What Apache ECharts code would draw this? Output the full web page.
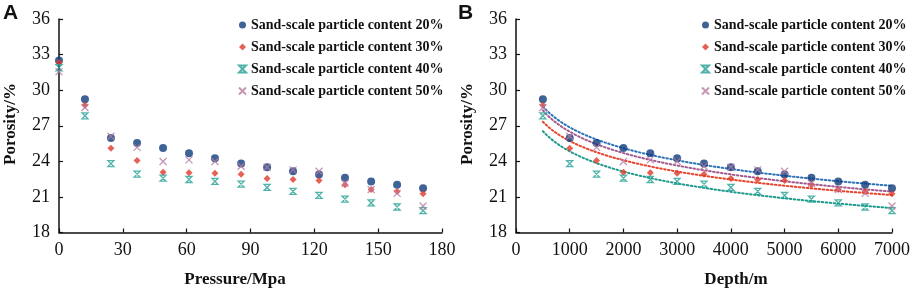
<!DOCTYPE html>
<html><head><meta charset="utf-8">
<script src="https://cdn.jsdelivr.net/npm/echarts@6/dist/echarts.min.js"></script>
<style>html,body{margin:0;padding:0;background:#fff}#c{width:913px;height:291px}</style>
</head><body><div id="c"></div>
<script>
// ---- data ----
var pressure = [0, 12.2, 24.4, 36.7, 48.9, 61.1, 73.3, 85.6, 97.8, 110.0, 122.2, 134.4, 146.7, 158.9, 171.1];
var depth = [500, 1000, 1500, 2000, 2500, 3000, 3500, 4000, 4500, 5000, 5500, 6000, 6500, 7000];
var names = ['Sand-scale particle content 20%', 'Sand-scale particle content 30%', 'Sand-scale particle content 40%', 'Sand-scale particle content 50%'];
var por20 = [32.5, 29.24, 25.97, 25.55, 25.13, 24.68, 24.26, 23.81, 23.5, 23.17, 22.89, 22.61, 22.31, 22.03, 21.74];
var por30 = [32.34, 28.73, 25.1, 24.07, 23.09, 23.03, 23.0, 22.92, 22.56, 22.47, 22.39, 22.03, 21.62, 21.45, 21.26];
var por40 = [31.89, 27.84, 23.81, 22.92, 22.58, 22.47, 22.31, 22.08, 21.8, 21.47, 21.13, 20.82, 20.49, 20.15, 19.85];
var por50 = [31.56, 28.54, 26.11, 25.18, 23.98, 24.12, 23.98, 23.59, 23.5, 23.28, 23.17, 22.15, 21.62, 21.3, 20.24];
var yTicks = [18, 21, 24, 27, 30, 33, 36];

// ---- styling ----
var serif = 'Liberation Serif';
var markerColors = ['#0f3c7c', '#e0392a', '#23a093', '#b87aa2'];
var lineColors = ['#2c73b8', '#e8432c', '#1e9a8c', '#a35a8f'];
var symbols = ['circle', 'diamond', 'path://M0 0 L10 0 L0 10 L10 10 Z', 'path://M0 0 L10 10 M10 0 L0 10'];
var sizes = [8, 7, 6, 7];
var allPor = [por20, por30, por40, por50];

function markerStyle(i) {
  if (i === 2) return {color: 'rgba(0,0,0,0)', borderColor: markerColors[i], borderWidth: 1.3};
  if (i === 3) return {color: 'rgba(0,0,0,0)', borderColor: markerColors[i], borderWidth: 1.3};
  return {color: markerColors[i]};
}

function logFit(xs, ys) {
  var n = xs.length, sx = 0, sy = 0, sxx = 0, sxy = 0;
  for (var k = 0; k < n; k++) { var lx = Math.log(xs[k]); sx += lx; sy += ys[k]; sxx += lx * lx; sxy += lx * ys[k]; }
  var b = (n * sxy - sx * sy) / (n * sxx - sx * sx);
  var a = (sy - b * sx) / n;
  var pts = [];
  for (var d = xs[0]; d <= xs[n - 1] + 1e-9; d += 50) pts.push([d, a + b * Math.log(d)]);
  return pts;
}

var series = [];
for (var i = 0; i < 4; i++) {
  series.push({
    name: 'trend' + i, type: 'line', xAxisIndex: 1, yAxisIndex: 1,
    data: logFit(depth, allPor[i].slice(1)), showSymbol: false, silent: true,
    lineStyle: {color: lineColors[i], width: 2, type: [1.6, 2.4], cap: 'round'}, z: 1
  });
}
for (var i = 0; i < 4; i++) {
  series.push({
    name: names[i], type: 'scatter', xAxisIndex: 0, yAxisIndex: 0,
    data: pressure.map(function (p, k) { return [p, allPor[i][k]]; }),
    symbol: symbols[i], symbolSize: sizes[i], itemStyle: markerStyle(i), clip: false, z: 3
  });
  series.push({
    name: names[i], type: 'scatter', xAxisIndex: 1, yAxisIndex: 1,
    data: depth.map(function (d, k) { return [d, allPor[i][k + 1]]; }),
    symbol: symbols[i], symbolSize: sizes[i], itemStyle: markerStyle(i), clip: false, z: 3
  });
}

var axisLine = {show: true, lineStyle: {color: '#111', width: 1.5}};
var axisTick = {show: true, inside: true, length: 4, lineStyle: {color: '#111', width: 1.2}};
function tickLabel() {
  return {fontFamily: serif, fontSize: 18, color: '#111', margin: 9, formatter: function (v) { return String(v); }};
}

function yAxis(gi) {
  return {type: 'value', gridIndex: gi, min: yTicks[0], max: yTicks[yTicks.length - 1], interval: 3,
    axisLine: axisLine, axisTick: axisTick, axisLabel: tickLabel(), splitLine: {show: false}};
}

function legend(left) {
  return {data: names, left: left, top: 17, orient: 'vertical', padding: 0, itemGap: 6,
    itemWidth: 7, itemHeight: 7, selectedMode: false,
    textStyle: {fontFamily: serif, fontSize: 14, fontWeight: 'bold', color: '#111', lineHeight: 16}};
}

var titleStyle = {fontFamily: serif, fontSize: 17, fontWeight: 'bold', fill: '#111', textAlign: 'center', textVerticalAlign: 'middle'};

var chart = echarts.init(document.getElementById('c'), null, {renderer: 'canvas'});
chart.setOption({
  backgroundColor: '#fff',
  animation: false,
  grid: [
    {left: 59, top: 19, width: 383, height: 213.5},
    {left: 516, top: 19, width: 384, height: 213.5}
  ],
  xAxis: [
    {type: 'value', gridIndex: 0, min: 0, max: 180, interval: 30, axisLine: axisLine, axisTick: axisTick,
      axisLabel: tickLabel(), splitLine: {show: false}},
    {type: 'value', gridIndex: 1, min: 0, max: 7000, interval: 1000, axisLine: axisLine, axisTick: axisTick,
      axisLabel: tickLabel(), splitLine: {show: false}}
  ],
  yAxis: [yAxis(0), yAxis(1)],
  legend: [legend(238), legend(701)],
  graphic: [
    {type: 'text', left: 3, top: 3, style: {text: 'A', font: 'bold 21px "Liberation Sans"', fill: '#111'}},
    {type: 'text', left: 458, top: 3, style: {text: 'B', font: 'bold 21px "Liberation Sans"', fill: '#111'}},
    {type: 'text', x: 235, y: 280, style: Object.assign({text: 'Pressure/Mpa'}, titleStyle)},
    {type: 'text', x: 736, y: 280, style: Object.assign({text: 'Depth/m'}, titleStyle)},
    {type: 'text', x: 11, y: 124, rotation: Math.PI / 2, style: Object.assign({text: 'Porosity/%'}, titleStyle)},
    {type: 'text', x: 468, y: 124, rotation: Math.PI / 2, style: Object.assign({text: 'Porosity/%'}, titleStyle)}
  ],
  series: series
});
</script>
</body></html>
